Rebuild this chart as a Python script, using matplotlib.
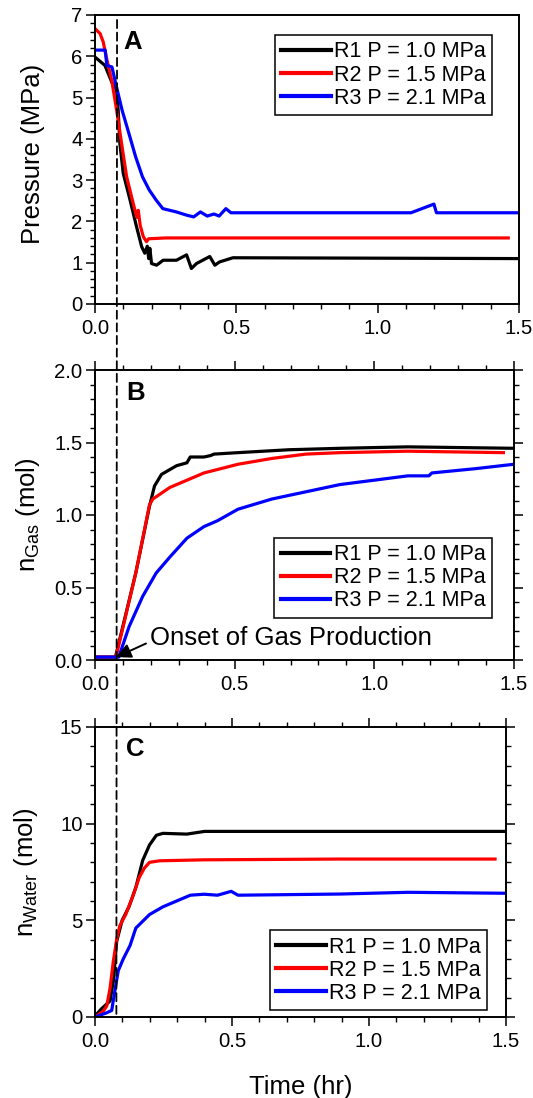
import matplotlib
matplotlib.use('Agg')
import matplotlib.pyplot as plt
from matplotlib.ticker import MultipleLocator, FormatStrFormatter
from matplotlib.patches import ConnectionPatch

# ---------------- data ----------------
labels = ['R1 P = 1.0 MPa', 'R2 P = 1.5 MPa', 'R3 P = 2.1 MPa']
colors = ['#000000', '#ff0000', '#0000ff']
onset_time = 0.078

# Panel A: pressure (MPa)
r1_tA = [0, 0.035, 0.059, 0.076, 0.082, 0.088, 0.10, 0.124, 0.147, 0.165, 0.176, 0.185,
         0.19, 0.194, 0.20, 0.218, 0.241, 0.288, 0.324, 0.341, 0.359, 0.406, 0.424, 0.441, 0.488, 1.5]
r1_pA = [5.98, 5.78, 5.38, 5.19, 4.69, 3.89, 3.16, 2.52, 1.87, 1.39, 1.23, 1.40,
         1.10, 1.35, 0.98, 0.94, 1.06, 1.06, 1.19, 0.86, 0.98, 1.15, 0.94, 1.02, 1.12, 1.10]
r2_tA = [0, 0.018, 0.029, 0.041, 0.059, 0.076, 0.094, 0.112, 0.135, 0.148, 0.153, 0.160,
         0.171, 0.182, 0.19, 0.25, 1.462]
r2_pA = [6.67, 6.55, 6.35, 5.95, 5.42, 4.72, 3.89, 3.08, 2.44, 2.10, 2.27, 1.90,
         1.63, 1.51, 1.58, 1.60, 1.60]
r3_tA = [0, 0.036, 0.042, 0.060, 0.076, 0.096, 0.120, 0.144, 0.168, 0.192, 0.216, 0.240,
         0.288, 0.325, 0.349, 0.373, 0.397, 0.421, 0.439, 0.463, 0.481, 1.118, 1.199, 1.208, 1.5]
r3_pA = [6.15, 6.15, 5.78, 5.74, 5.26, 4.69, 4.13, 3.56, 3.08, 2.76, 2.52, 2.31,
         2.23, 2.15, 2.11, 2.23, 2.13, 2.18, 2.13, 2.31, 2.21, 2.21, 2.42, 2.21, 2.21]

# Panel B: n_Gas (mol)
r1_tB = [0, 0.073, 0.146, 0.195, 0.213, 0.238, 0.256, 0.292, 0.329, 0.341, 0.39, 0.414,
         0.426, 0.512, 0.694, 0.877, 1.12, 1.5]
r1_nB = [0.02, 0.02, 0.60, 1.06, 1.20, 1.28, 1.30, 1.34, 1.36, 1.40, 1.40, 1.41,
         1.42, 1.43, 1.45, 1.46, 1.47, 1.46]
r2_tB = [0, 0.075, 0.146, 0.195, 0.207, 0.268, 0.329, 0.39, 0.512, 0.633, 0.755, 0.877, 1.12, 1.462]
r2_nB = [0.02, 0.02, 0.60, 1.07, 1.11, 1.19, 1.24, 1.29, 1.35, 1.39, 1.42, 1.43, 1.44, 1.43]
r3_tB = [0, 0.085, 0.122, 0.171, 0.219, 0.268, 0.329, 0.39, 0.438, 0.512, 0.633, 0.755,
         0.877, 0.999, 1.12, 1.195, 1.206, 1.364, 1.5]
r3_nB = [0.02, 0.02, 0.23, 0.44, 0.60, 0.71, 0.84, 0.92, 0.96, 1.04, 1.11, 1.16,
         1.21, 1.24, 1.27, 1.27, 1.29, 1.32, 1.35]

# Panel C: n_Water (mol)
r1_tC = [0, 0.024, 0.055, 0.067, 0.079, 0.099, 0.124, 0.149, 0.174, 0.199, 0.224, 0.248,
         0.335, 0.40, 1.5]
r1_nC = [0.05, 0.43, 0.83, 1.86, 3.9, 5.0, 5.7, 6.7, 8.1, 8.9, 9.4, 9.5, 9.46, 9.6, 9.6]
r2_tC = [0, 0.03, 0.043, 0.055, 0.067, 0.079, 0.09, 0.112, 0.137, 0.161, 0.18, 0.199,
         0.236, 0.4, 0.894, 1.46]
r2_nC = [0, 0.3, 0.57, 1.5, 2.9, 4.0, 4.7, 5.3, 6.2, 7.2, 7.7, 8.0, 8.08, 8.13, 8.17, 8.17]
r3_tC = [0, 0.043, 0.061, 0.073, 0.085, 0.103, 0.128, 0.149, 0.199, 0.248, 0.298, 0.348,
         0.398, 0.447, 0.497, 0.522, 0.894, 1.143, 1.5]
r3_nC = [0, 0.22, 0.34, 1.4, 2.4, 3.0, 3.7, 4.6, 5.3, 5.7, 6.0, 6.3,
         6.35, 6.3, 6.5, 6.3, 6.36, 6.45, 6.4]

xticks = [0.0, 0.5, 1.0, 1.5]
xticklabels = ['0.0', '0.5', '1.0', '1.5']

# ---------------- style ----------------
plt.rcParams['font.family'] = ['Liberation Sans', 'DejaVu Sans']
plt.rcParams['mathtext.fontset'] = 'custom'
plt.rcParams['mathtext.rm'] = 'Liberation Sans'
plt.rcParams['mathtext.it'] = 'Liberation Sans'
plt.rcParams['mathtext.default'] = 'regular'

W, H = 533, 1098
fig = plt.figure(figsize=(W / 100, H / 100), dpi=100)

def box(l, t, r, b):
    return [l / W, 1 - b / H, (r - l) / W, (b - t) / H]

axA = fig.add_axes(box(95, 15, 519, 304))
axB = fig.add_axes(box(95, 370, 514, 660))
axC = fig.add_axes(box(95, 727, 506, 1017))

TICK_FS = 14.7
LABEL_FS = 18.5
LEG_FS = 15.5
LW = 2.3

def style(ax, ymax, ymajor, yminor, mirror):
    ax.set_xlim(0, 1.5)
    ax.set_ylim(0, ymax)
    ax.set_xticks(xticks)
    ax.set_xticklabels(xticklabels)
    ax.xaxis.set_minor_locator(MultipleLocator(0.1))
    ax.yaxis.set_major_locator(MultipleLocator(ymajor))
    ax.yaxis.set_minor_locator(MultipleLocator(yminor))
    for s in ax.spines.values():
        s.set_linewidth(1.4)
    ax.tick_params(which='major', direction='out', length=6.5, width=1.1,
                   labelsize=TICK_FS, colors='black')
    ax.tick_params(which='minor', direction='out', length=3.5, width=1.0)
    ax.tick_params(axis='x', which='major', pad=4.5)
    ax.tick_params(axis='y', which='major', pad=2.5)
    if mirror:
        ax.tick_params(which='both', top=True, right=True)

style(axA, 7, 1, 0.2, False)
style(axB, 2.0, 0.5, 0.1, True)
style(axC, 15, 5, 1, True)
axB.yaxis.set_major_formatter(FormatStrFormatter('%.1f'))

for t, y, c, l in zip([r1_tA, r2_tA, r3_tA], [r1_pA, r2_pA, r3_pA], colors, labels):
    axA.plot(t, y, color=c, lw=LW, label=l)
for t, y, c, l in zip([r1_tB, r2_tB, r3_tB], [r1_nB, r2_nB, r3_nB], colors, labels):
    axB.plot(t, y, color=c, lw=LW, label=l)
for t, y, c, l in zip([r1_tC, r2_tC, r3_tC], [r1_nC, r2_nC, r3_nC], colors, labels):
    axC.plot(t, y, color=c, lw=LW, label=l)

def legend(ax, loc, anchor):
    leg = ax.legend(loc=loc, bbox_to_anchor=anchor, fontsize=LEG_FS, frameon=True,
                    fancybox=False, edgecolor='black', framealpha=1,
                    handlelength=2.3, handletextpad=0.15, labelspacing=0.1,
                    borderpad=0.3, borderaxespad=0)
    leg.get_frame().set_linewidth(1.1)
    for ln in leg.get_lines():
        ln.set_linewidth(3.0)

legend(axA, 'upper right', (0.937, 0.931))
legend(axB, 'lower right', (0.947, 0.145))
legend(axC, 'lower right', (0.954, 0.023))

axA.set_ylabel('Pressure (MPa)', fontsize=LABEL_FS, va='center')
axB.set_ylabel('n$_{Gas}$ (mol)', fontsize=LABEL_FS, va='center')
axC.set_ylabel('n$_{Water}$ (mol)', fontsize=LABEL_FS, va='center')
axA.yaxis.set_label_coords(-0.146, 0.52)
axB.yaxis.set_label_coords(-0.160, 0.5)
axC.yaxis.set_label_coords(-0.168, 0.5)
axC.set_xlabel('Time (hr)', fontsize=LABEL_FS, labelpad=17)

axA.text(0.066, 0.881, 'A', transform=axA.transAxes, fontsize=LABEL_FS,
         fontweight='bold', va='baseline', ha='left')
axB.text(0.074, 0.898, 'B', transform=axB.transAxes, fontsize=LABEL_FS,
         fontweight='bold', va='baseline', ha='left')
axC.text(0.076, 0.900, 'C', transform=axC.transAxes, fontsize=LABEL_FS,
         fontweight='bold', va='baseline', ha='left')

axB.annotate('Onset of Gas Production', xy=(onset_time - 0.002, 0.02),
             xytext=(0.197, 0.103), fontsize=LABEL_FS, ha='left', va='baseline',
             arrowprops=dict(arrowstyle='-|>', color='black', lw=1.4,
                             mutation_scale=22, shrinkA=1, shrinkB=0,
                             relpos=(0, 0.35)))

con = ConnectionPatch(xyA=(onset_time, 6.88), coordsA=axA.transData,
                      xyB=(onset_time, 0), coordsB=axC.transData,
                      color='black', lw=1.3, linestyle=(0, (4.5, 2.5)))
fig.add_artist(con)

fig.savefig('out.png', dpi=100)
